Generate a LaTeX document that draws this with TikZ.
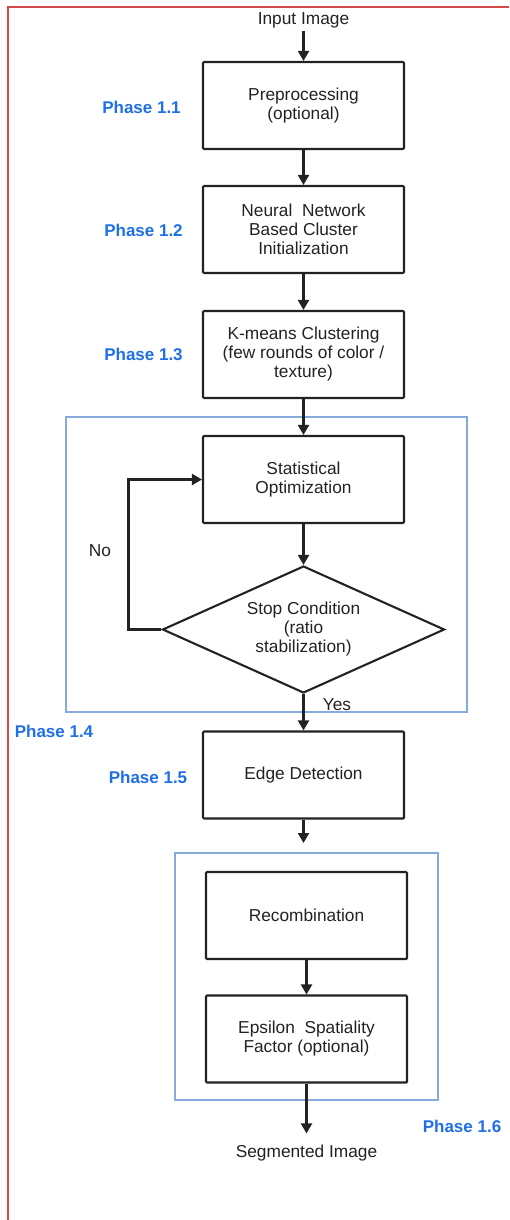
\documentclass[tikz,border=0pt]{standalone}
\usepackage{fontspec}
\setmainfont{Liberation Sans}
\usetikzlibrary{shapes.geometric,arrows.meta}
\definecolor{framered}{HTML}{D24A4A}
\definecolor{groupblue}{HTML}{86AADC}
\definecolor{phaseblue}{HTML}{1F6FE6}
\definecolor{ink}{HTML}{222222}
\tikzset{
  stepbox/.style={draw=ink, line width=2.1pt, rounded corners=1pt, minimum width=201pt,
    minimum height=87pt, align=center, text=ink, font=\fontsize{17.3}{19}\selectfont, inner sep=2pt},
  decision/.style={draw=ink, line width=2.1pt, shape=diamond, aspect=2.2, minimum width=282pt,
    minimum height=127pt, align=center, text=ink, font=\fontsize{17.3}{19}\selectfont, inner sep=0pt},
  plain/.style={text=ink, font=\fontsize{17.3}{19}\selectfont, align=center},
  phase/.style={text=phaseblue, font=\fontsize{17}{19}\selectfont\bfseries},
  group/.style={draw=groupblue, line width=2pt},
  flow/.style={draw=ink, line width=2.1pt, -{Triangle[width=11pt,length=10pt]}},
}
\begin{document}
\begin{tikzpicture}[x=1pt,y=-1pt]
\useasboundingbox (0,0) rectangle (509,1220);
% outer frame (its right and bottom sides fall outside the page)
\draw[framered, line width=2pt] (7.5,1220) -- (7.5,7.5) -- (509,7.5);

% grouping frames
\node[group, minimum width=401pt, minimum height=295pt, inner sep=0pt] (g4) at (266.5,564.5) {};
\node[group, minimum width=263pt, minimum height=247pt, inner sep=0pt] (g6) at (306.5,976.5) {};

% process steps
\node[plain] (in) at (303.5,20) {Input Image};
\node[stepbox] (b1) at (303.5,105.5) {Preprocessing\\(optional)};
\node[stepbox] (b2) at (303.5,229.5) {Neural~ Network\\Based Cluster\\Initialization};
\node[stepbox] (b3) at (303.5,354.5) {K-means Clustering\\(few rounds of color /\\texture)};
\node[stepbox] (b4) at (303.5,479.5) {Statistical\\Optimization};
\node[decision] (d4) at (303.5,629.5) {Stop Condition\\(ratio\\stabilization)};
\node[stepbox] (b5) at (303.5,775) {Edge Detection};
\coordinate (e5) at (303.5,843);
\node[stepbox] (b6) at (306.5,915.5) {Recombination};
\node[stepbox] (b7) at (306.5,1039) {Epsilon~ Spatiality\\Factor (optional)};
\node[plain] (out) at (306.5,1153) {Segmented Image};

% connectors
\draw[flow] (in) -- (b1);
\draw[flow] (b1) -- (b2);
\draw[flow] (b2) -- (b3);
\draw[flow] (b3) -- (b4);
\draw[flow] (b4) -- (d4);
\draw[flow] (d4.west) -- ++(-33,0) |- (b4.west);
\draw[flow] (d4.south) -- (b5.north);
\draw[flow] (b5) -- (e5);
\draw[flow] (b6) -- (b7);
\draw[flow, shorten >=8pt] (b7) -- (out);

% branch labels
\node[plain] (no) at (100,551) {No};
\node[plain] (yes) at (337,705) {Yes};

% phase labels
\node[phase] (p1) at (141.5,107) {Phase 1.1};
\node[phase] (p2) at (143.5,230) {Phase 1.2};
\node[phase] (p3) at (143.5,354) {Phase 1.3};
\node[phase] (p4) at (54,731) {Phase 1.4};
\node[phase] (p5) at (148,777) {Phase 1.5};
\node[phase] (p6) at (462,1126) {Phase 1.6};
\end{tikzpicture}
\end{document}
